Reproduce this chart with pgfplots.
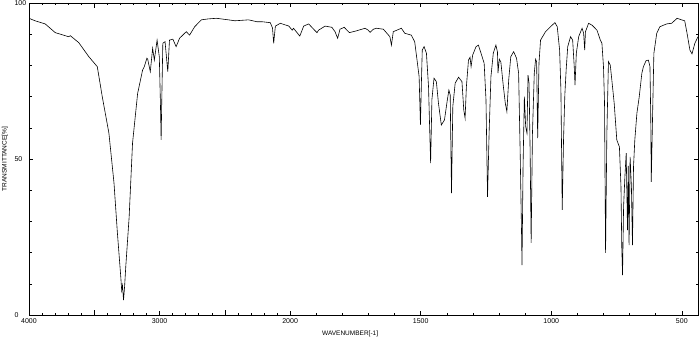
\documentclass[border=0pt]{standalone}
\usepackage{pgfplots}
\usepackage{pgfplotstable}
\pgfplotsset{compat=1.18}
\usepackage{fontspec}
\setmainfont{Liberation Sans}
\pgfplotstableread{
w T
4000 95.1
3954 94.3
3876 93.3
3799 90.5
3697 89.2
3683 89.5
3619 87.3
3542 82.8
3477 79.6
3439 70.0
3388 58.3
3349 42.3
3323 26.3
3297 12.2
3290 7.8
3284 9.5
3276 4.8
3268 9.0
3259 15.4
3233 31.4
3207 55.1
3168 71.0
3130 78.5
3117 79.6
3097 82.3
3091 82.0
3071 78.0
3053 85.5
3040 81.7
3019 88.1
3002 82.8
2994 69.0
2988 56.1
2983 69.0
2975 87.1
2958 87.6
2937 78.0
2924 88.1
2898 88.4
2873 86.0
2847 88.7
2808 90.3
2795 90.8
2770 89.7
2731 92.4
2680 94.6
2628 94.9
2564 95.1
2473 94.6
2422 94.3
2319 94.6
2255 94.0
2216 94.0
2152 93.7
2135 92.0
2126 87.1
2113 92.6
2075 93.5
2010 92.6
1992 91.3
1987 91.9
1963 89.4
1948 92.6
1929 93.3
1910 91.6
1897 90.5
1891 91.3
1866 92.6
1840 92.2
1828 90.8
1818 88.7
1809 91.6
1793 92.2
1773 90.5
1745 91.1
1713 91.9
1701 91.3
1694 90.6
1681 91.6
1669 91.9
1643 91.6
1618 89.2
1612 86.5
1605 90.8
1574 91.9
1561 90.3
1536 89.7
1523 87.6
1514 81.7
1506 76.4
1501 60.9
1497 75.3
1494 84.9
1487 86.0
1478 83.9
1470 73.2
1462 48.7
1457 69.1
1449 75.9
1440 74.8
1432 67.9
1421 60.9
1409 62.5
1398 68.9
1392 72.1
1387 70.5
1382 39.1
1377 66.8
1368 74.3
1355 76.2
1342 74.8
1335 65.7
1330 63.1
1325 73.2
1317 81.7
1311 82.6
1307 79.6
1301 83.3
1288 86.0
1279 86.5
1269 83.9
1257 80.7
1250 69.1
1244 37.9
1238 58.3
1231 76.4
1222 83.9
1212 86.5
1206 84.3
1204 77.5
1199 82.0
1193 81.1
1184 73.7
1176 67.9
1170 65.2
1163 75.3
1155 82.8
1144 84.4
1133 82.3
1125 77.5
1119 51.9
1114 27.2
1112 16.0
1108 47.5
1103 70.0
1098 60.4
1093 58.3
1089 76.9
1085 74.3
1081 52.9
1077 23.1
1072 58.3
1065 77.5
1060 82.0
1056 81.1
1052 56.7
1047 80.7
1041 88.1
1022 90.8
1003 92.4
986 93.7
977 92.4
968 84.9
963 72.1
958 33.7
953 56.1
948 70.5
943 78.5
937 86.0
926 89.2
918 88.1
912 79.6
909 73.7
904 83.9
895 89.2
882 91.9
876 90.3
872 84.9
869 90.8
857 93.5
844 92.9
825 91.3
812 88.1
806 87.1
800 79.6
796 67.9
792 19.9
787 58.3
781 81.2
774 80.1
768 75.3
759 67.9
749 56.1
739 53.9
733 41.1
730 21.9
727 12.8
723 34.7
718 44.3
713 51.9
708 27.2
705 47.8
702 22.4
698 50.7
693 41.0
689 22.4
685 47.5
680 56.1
672 64.7
663 70.0
653 77.5
647 79.6
637 81.5
628 81.7
622 79.6
619 63.6
617 42.7
612 63.8
607 83.9
596 90.3
584 92.4
558 93.3
539 93.5
518 95.1
501 94.6
489 94.3
480 90.3
469 84.9
461 83.7
450 87.1
438 89.2
}\spec
\begin{document}
\begin{tikzpicture}
\begin{axis}[
  scale only axis, width=669pt, height=312pt,
  xmin=0, xmax=2562, ymin=0, ymax=100,
  xtick={0,500,1000,1500,2000,2500},
  xticklabels={4000,3000,2000,1500,1000,500},
  extra x ticks={250,750}, extra x tick labels={},
  extra x tick style={major tick length=5pt},
  minor xtick={50,100,150,200,300,350,400,450,550,600,650,700,800,850,900,950,1100,1200,1300,1400,1600,1700,1800,1900,2100,2200,2300,2400},
  ytick={0,50,100}, minor ytick={10,20,30,40,60,70,80,90},
  tick align=inside, major tick length=4pt, minor tick length=2.5pt,
  every tick/.style={black, line width=0.5pt},
  axis line style={line width=0.6pt},
  /pgf/number format/assume math mode=true,
  tick label style={font=\fontsize{7}{8}\selectfont},
  yticklabel style={anchor=west, xshift=-18pt},
  xticklabel style={yshift=0pt},
  xlabel={WAVENUMBER[-1]},
  ylabel={TRANSMITTANCE[\%]},
  label style={font=\fontsize{6.5}{7.5}\selectfont},
  xlabel style={at={(axis description cs:0.48,0)}, anchor=center, yshift=-19pt},
  ylabel style={at={(axis description cs:0,0.5)}, anchor=center, yshift=24pt},
  x filter/.expression={x>=2000 ? (4000-x)/2 : 3000-x},
]
\addplot[black, line width=0.6pt, mark=none] table[x=w, y=T] {\spec};
\coordinate (sw) at (rel axis cs:0,0);
\coordinate (ne) at (rel axis cs:1,1);
\end{axis}
\pgfresetboundingbox
\path ([xshift=-29pt,yshift=-30pt]sw) rectangle ([xshift=2pt,yshift=3pt]ne);
\end{tikzpicture}
\end{document}
